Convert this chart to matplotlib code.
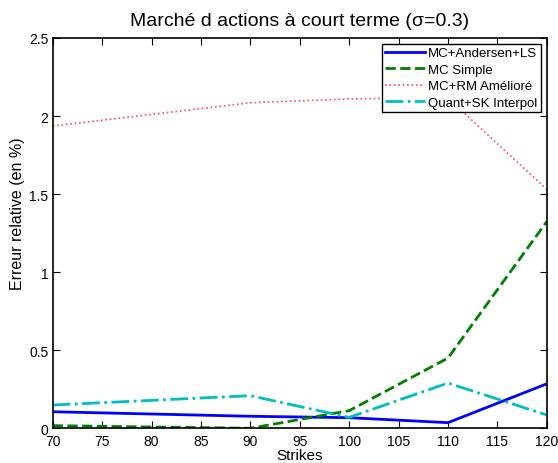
import numpy as np
import matplotlib.pyplot as plt

plt.rcParams['font.family'] = ['Liberation Sans', 'DejaVu Sans']

strikes = [70, 90, 100, 110, 120]
andersen_ls = [0.106, 0.077, 0.068, 0.036, 0.285]
mc_simple = [0.017, 0.0, 0.113, 0.45, 1.325]
rm_ameliore = [1.936, 2.085, 2.11, 2.115, 1.53]
sk_interpol = [0.149, 0.209, 0.07, 0.29, 0.085]

fig = plt.figure(figsize=(5.58, 4.64), dpi=100)
ax = fig.add_axes([0.0944, 0.0748, 0.8856, 0.8412])

ax.plot(strikes, andersen_ls, '-', color=(0, 0, 1), lw=2, label='MC+Andersen+LS')
ax.plot(strikes, mc_simple, '--', color=(0, 0.5, 0), lw=2, label='MC Simple')
ax.plot(strikes, rm_ameliore, ':', color=(1, 0.3, 0.3), lw=1.2, label='MC+RM Amélioré')
ax.plot(strikes, sk_interpol, '-.', color=(0, 0.75, 0.75), lw=2, label='Quant+SK Interpol')

ax.set_xlim(70, 120)
ax.set_ylim(0, 2.5)
ax.set_xticks(np.arange(70, 121, 5))
ax.set_yticks([0, 0.5, 1, 1.5, 2, 2.5])
ax.set_yticklabels(['0', '0.5', '1', '1.5', '2', '2.5'])
ax.tick_params(direction='in', top=True, right=True, labelsize=10, length=5)
ax.tick_params(axis='x', pad=4)
ax.tick_params(axis='y', pad=3)
for s in ax.spines.values():
    s.set_linewidth(1.2)

ax.set_xlabel('Strikes', fontsize=11, labelpad=0)
ax.set_ylabel('Erreur relative (en %)', fontsize=11.5)
ax.yaxis.set_label_coords(-0.056, 0.552)
ax.set_title('Marché d actions à court terme (σ=0.3)', fontsize=14, pad=9)

leg = ax.legend(loc='upper right', fontsize=9.5, fancybox=False, edgecolor='black',
                framealpha=1, borderpad=0.25, labelspacing=0.32, handlelength=3.0,
                handletextpad=0.25, borderaxespad=0.45)
leg.get_frame().set_linewidth(1.0)

fig.savefig('out.png', dpi=100)
